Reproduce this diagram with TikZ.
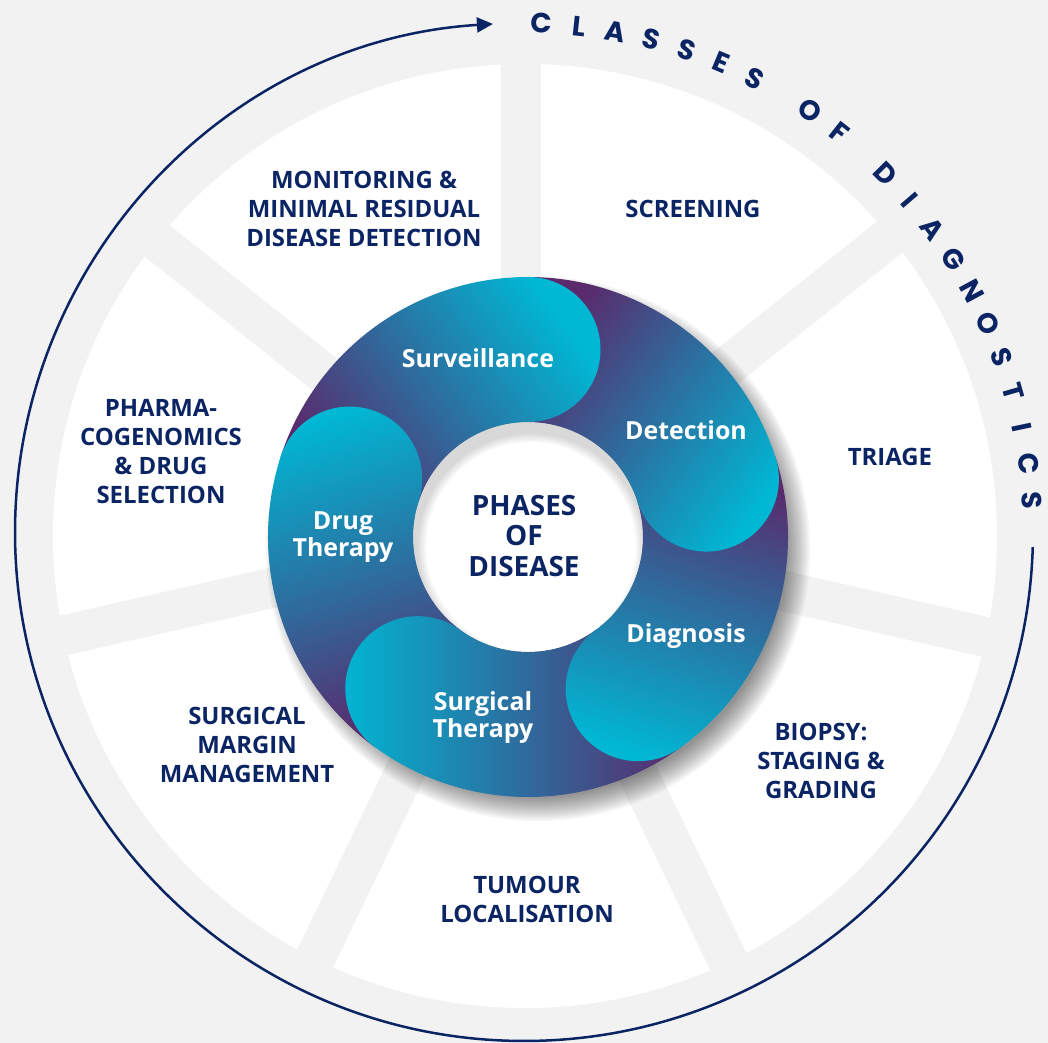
\documentclass[tikz,border=0pt]{standalone}
\usepackage{fontspec}
\setmainfont{Open Sans}
\newfontfamily\arcfont{Poppins}
\usetikzlibrary{positioning, arrows.meta, calc}

\definecolor{navy}{HTML}{0B2463}
\definecolor{bggrey}{HTML}{F2F2F2}
\definecolor{ringpurple}{HTML}{5A2A6C}
\definecolor{ringblue}{HTML}{2A72A2}
\definecolor{ringcyan}{HTML}{00B8D4}

% one phase of the ring: body from the previous head to its own round head
\newcommand{\phasepath}[1]{($(R)+(#1+72:260)$) arc[start angle={#1+72}, end angle={#1}, radius=260]
  arc[start angle={#1}, end angle={#1-180}, radius=72.5]
  arc[start angle={#1}, end angle={#1+72}, radius=115] -- cycle}

\begin{document}
\begin{tikzpicture}[x=1bp, y=1bp,
    classlabel/.style={text=navy, font=\bfseries\fontsize{24}{29}\selectfont, align=center},
    phaselabel/.style={text=white, font=\bfseries\fontsize{25}{27}\selectfont, align=center},
    centrelabel/.style={text=navy, font=\bfseries\fontsize{28}{31}\selectfont, align=center},
    arcletter/.style={text=navy, font=\arcfont\bfseries\fontsize{28}{28}\selectfont, inner sep=0pt},
    phaseshade/.style={bottom color=ringpurple, top color=ringcyan, middle color=ringblue}]
    \useasboundingbox (0,0) rectangle (1048,1043);

    \coordinate (D) at (525,507);   % white wheel
    \coordinate (P) at (521,512);   % spokes
    \coordinate (R) at (528,506);   % phase ring
    \coordinate (A) at (524,511);   % outer arrow

    % background and white wheel
    \fill[bggrey] (0,0) rectangle (1048,1043);
    \fill[white] (D) circle (472);

    % spokes between the seven classes
    \foreach \a in {90,38.57,-12.86,-64.29,-115.71,-167.14,141.43}
        \draw[bggrey, line width=40bp] (P) -- ++(\a:490);

    % soft shadow under the ring, down to the right
    \foreach \w in {0,2,...,24}
        \fill[black, opacity=0.04] ($(R)+(10,-12)$) circle (248+\w);
    \fill[white] (R) circle (115);
    % faint shade inside the hole
    \begin{scope}
        \clip (R) circle (115);
        \foreach \r in {113,111,...,105}
            \fill[black, opacity=0.03, even odd rule] (R) circle (116) ($(R)+(3,-10)$) circle (\r);
    \end{scope}

    % phases of disease
    \shade[phaseshade, shading angle=18] \phasepath{162};
    \shade[phaseshade, shading angle=90] \phasepath{-126};
    \shade[phaseshade, shading angle=-198] \phasepath{-54};
    \shade[phaseshade, shading angle=-126] \phasepath{18};
    \shade[phaseshade, shading angle=-54] \phasepath{90};
    % drug therapy head again, over the start of surveillance
    \begin{scope}
        \clip ($(R)+(162:187.5)$) circle (72.5);
        \shade[phaseshade, shading angle=18] \phasepath{162};
    \end{scope}

    % outer arrow and its title
    \coordinate (arcstart) at ($(A)+(-1.7:509)$);
    \draw[navy, line width=2.5bp, -{Triangle[length=16bp, width=15bp]}] (arcstart)
        arc[start angle=-1.7, end angle=-266.5, radius=509];
    \foreach \ch/\a [count=\i] in {C/88.0, L/83.8, A/79.7, S/75.5, S/71.3, E/67.2, S/63.0,
        O/55.8, F/51.7, D/44.8, I/40.7, A/36.6, G/32.4, N/28.3, O/24.2, S/20.1, T/16.0,
        I/11.9, C/7.7, S/3.6}
        \node[arcletter, rotate=\a-90] (title\i) at ($(A)+(\a:509)$) {\ch};

    % classes of diagnostics
    \node[classlabel] (monitoring) at (364,834) {MONITORING \&\\MINIMAL RESIDUAL\\DISEASE DETECTION};
    \node[classlabel] (screening) at (693,834) {SCREENING};
    \node[classlabel] (triage) at (890,586) {TRIAGE};
    \node[classlabel] (biopsy) at (821,282) {BIOPSY:\\STAGING \&\\GRADING};
    \node[classlabel] (tumour) at (527,143.5) {TUMOUR\\LOCALISATION};
    \node[classlabel] (margin) at (247,298) {SURGICAL\\MARGIN\\MANAGEMENT};
    \node[classlabel] (pharma) at (161,591.5) {PHARMA-\\COGENOMICS\\\& DRUG\\SELECTION};

    % ring labels
    \node[phaselabel] (surveillance) at (478,685) {Surveillance};
    \node[phaselabel] (detection) at (686,613) {Detection};
    \node[phaselabel] (diagnosis) at (686,407) {Diagnosis};
    \node[phaselabel] (surgical) at (483,325.5) {Surgical\\Therapy};
    \node[phaselabel] (drug) at (343,505.5) {Drug\\Therapy};
    \node[centrelabel] (phases) at (524,507) {PHASES\\OF\\DISEASE};
\end{tikzpicture}
\end{document}
